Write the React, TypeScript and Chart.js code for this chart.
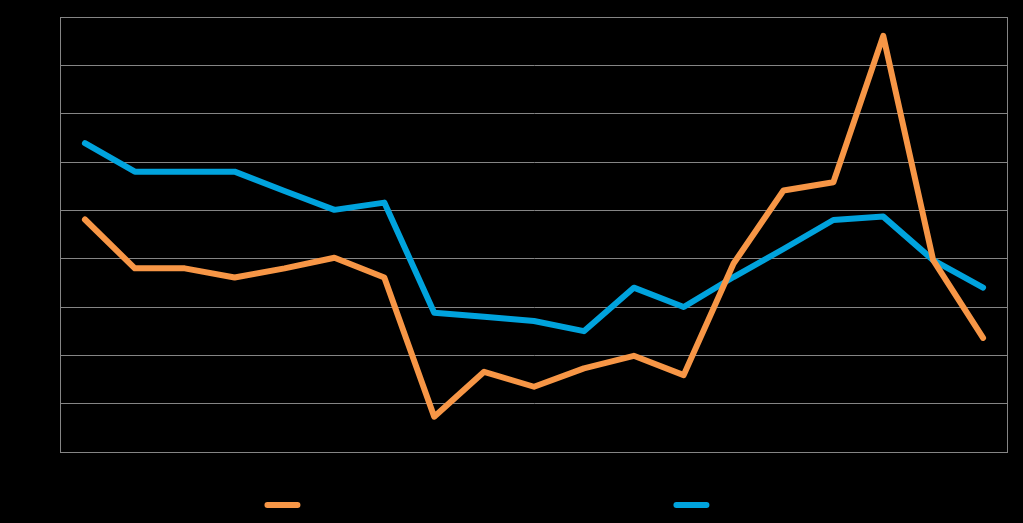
import React, { useEffect, useRef } from "react";
import { Chart, registerables } from "chart.js";

Chart.register(...registerables);

const categories: string[] = [
  "1", "2", "3", "4", "5", "6", "7", "8", "9", "10",
  "11", "12", "13", "14", "15", "16", "17", "18", "19",
];

const seriesAName = "Series A";
const seriesBName = "Series B";

const seriesA: number[] = [
  4.81, 3.8, 3.8, 3.61, 3.8, 4.02, 3.61, 0.73, 1.66, 1.35,
  1.73, 1.99, 1.59, 3.9, 5.41, 5.58, 8.61, 3.97, 2.36,
];

const seriesB: number[] = [
  6.39, 5.8, 5.8, 5.8, 5.4, 5.01, 5.16, 2.88, 2.8, 2.71,
  2.5, 3.4, 3.0, 3.62, 4.2, 4.8, 4.87, 3.97, 3.4,
];

const yMin = 0;
const yMax = 9;
const yStep = 1;

const ORANGE = "#F79646";
const BLUE = "#00A3DD";
const GRID = "#858585";

const framePlugin = {
  id: "frameAndLegend",
  beforeDatasetsDraw(chart: any) {
    const { ctx, chartArea } = chart;
    ctx.save();
    ctx.strokeStyle = GRID;
    ctx.lineWidth = 1;
    ctx.strokeRect(
      Math.round(chartArea.left) + 0.5,
      Math.round(chartArea.top) + 0.5,
      Math.round(chartArea.right - chartArea.left) - 1,
      Math.round(chartArea.bottom - chartArea.top)
    );
    ctx.restore();
  },
  afterDraw(chart: any) {
    const { ctx } = chart;
    const w = chart.width;
    const y = chart.height - 18;
    const items = [
      { x: w * 0.2585, color: ORANGE, text: seriesAName },
      { x: w * 0.6583, color: BLUE, text: seriesBName },
    ];
    ctx.save();
    items.forEach((it) => {
      ctx.strokeStyle = it.color;
      ctx.lineWidth = 6;
      ctx.lineCap = "round";
      ctx.beginPath();
      ctx.moveTo(it.x + 3, y);
      ctx.lineTo(it.x + 33, y);
      ctx.stroke();
      ctx.fillStyle = "#000000";
      ctx.font = "14px Calibri, 'Liberation Sans', sans-serif";
      ctx.textBaseline = "middle";
      ctx.fillText(it.text, it.x + 44, y);
    });
    ctx.restore();
  },
};

export default function App() {
  const canvasRef = useRef<HTMLCanvasElement | null>(null);

  useEffect(() => {
    document.body.style.margin = "0";
    document.body.style.background = "#000000";
    const canvas = canvasRef.current;
    if (!canvas) return;
    const chart = new Chart(canvas, {
      type: "line",
      data: {
        labels: categories,
        datasets: [
          {
            label: seriesAName,
            data: seriesA,
            borderColor: ORANGE,
            backgroundColor: ORANGE,
            borderWidth: 6,
            borderCapStyle: "round",
            borderJoinStyle: "round",
            pointRadius: 0,
            tension: 0,
          },
          {
            label: seriesBName,
            data: seriesB,
            borderColor: BLUE,
            backgroundColor: BLUE,
            borderWidth: 6,
            borderCapStyle: "round",
            borderJoinStyle: "round",
            pointRadius: 0,
            tension: 0,
          },
        ],
      },
      options: {
        animation: false,
        responsive: true,
        maintainAspectRatio: false,
        layout: { padding: { top: 17, right: 15, bottom: 41, left: 0 } },
        plugins: {
          legend: { display: false },
          tooltip: { enabled: false },
        },
        scales: {
          x: {
            offset: true,
            grid: { display: false },
            border: { display: false },
            ticks: { color: "#000000", font: { size: 12 } },
            afterFit: (scale: any) => {
              scale.height = 30;
              scale.paddingLeft = 0;
              scale.paddingRight = 0;
            },
          },
          y: {
            min: yMin,
            max: yMax,
            grid: { color: GRID, lineWidth: 1, drawTicks: false },
            border: { display: true, color: GRID },
            ticks: { stepSize: yStep, color: "#000000", padding: 8, font: { size: 12 } },
            afterFit: (scale: any) => {
              scale.width = 60;
              scale.paddingTop = 0;
              scale.paddingBottom = 0;
            },
          },
        },
      },
      plugins: [framePlugin],
    });
    return () => chart.destroy();
  }, []);

  return (
    <div style={{ position: "fixed", left: 0, top: 0, width: 1023, height: 523, background: "#000000" }}>
      <canvas ref={canvasRef} />
    </div>
  );
}
